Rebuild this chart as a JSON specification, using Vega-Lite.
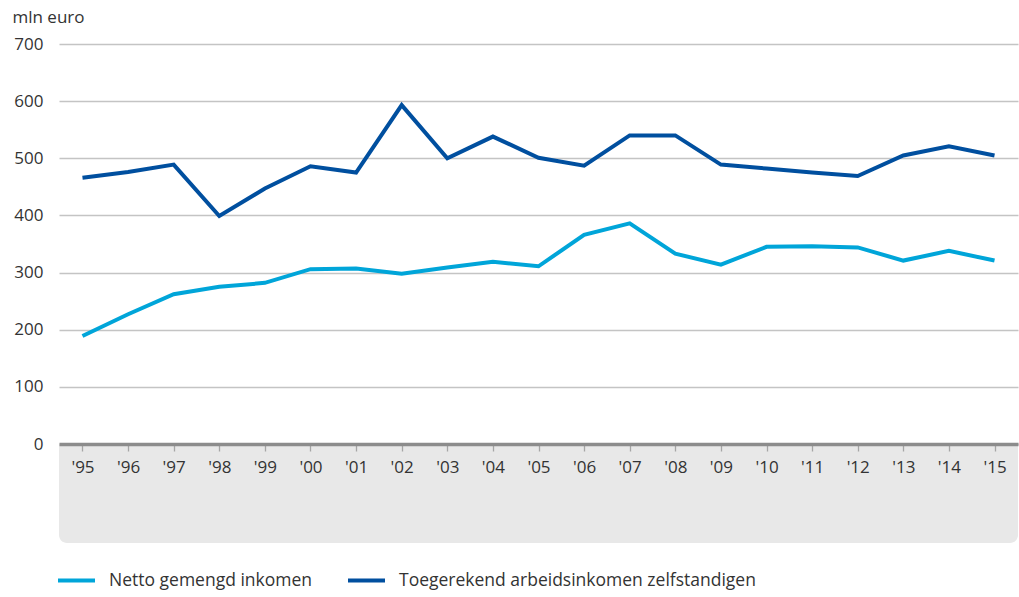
{
  "$schema": "https://vega.github.io/schema/vega-lite/v6.json",
  "width": 959,
  "height": 499,
  "autosize": {"type": "none"},
  "padding": {"left": 59, "top": 44, "right": 1, "bottom": 54},
  "background": "#ffffff",
  "config": {
    "font": "Open Sans",
    "view": {"stroke": null}
  },
  "data": {
    "values": [
      {"year": 1995, "series": "Netto gemengd inkomen", "value": 189},
      {"year": 1996, "series": "Netto gemengd inkomen", "value": 227},
      {"year": 1997, "series": "Netto gemengd inkomen", "value": 262},
      {"year": 1998, "series": "Netto gemengd inkomen", "value": 275},
      {"year": 1999, "series": "Netto gemengd inkomen", "value": 282},
      {"year": 2000, "series": "Netto gemengd inkomen", "value": 306},
      {"year": 2001, "series": "Netto gemengd inkomen", "value": 307},
      {"year": 2002, "series": "Netto gemengd inkomen", "value": 298},
      {"year": 2003, "series": "Netto gemengd inkomen", "value": 309},
      {"year": 2004, "series": "Netto gemengd inkomen", "value": 319},
      {"year": 2005, "series": "Netto gemengd inkomen", "value": 311},
      {"year": 2006, "series": "Netto gemengd inkomen", "value": 366},
      {"year": 2007, "series": "Netto gemengd inkomen", "value": 386},
      {"year": 2008, "series": "Netto gemengd inkomen", "value": 333},
      {"year": 2009, "series": "Netto gemengd inkomen", "value": 314},
      {"year": 2010, "series": "Netto gemengd inkomen", "value": 345},
      {"year": 2011, "series": "Netto gemengd inkomen", "value": 346},
      {"year": 2012, "series": "Netto gemengd inkomen", "value": 344},
      {"year": 2013, "series": "Netto gemengd inkomen", "value": 321},
      {"year": 2014, "series": "Netto gemengd inkomen", "value": 338},
      {"year": 2015, "series": "Netto gemengd inkomen", "value": 321},
      {"year": 1995, "series": "Toegerekend arbeidsinkomen zelfstandigen", "value": 466},
      {"year": 1996, "series": "Toegerekend arbeidsinkomen zelfstandigen", "value": 476},
      {"year": 1997, "series": "Toegerekend arbeidsinkomen zelfstandigen", "value": 489},
      {"year": 1998, "series": "Toegerekend arbeidsinkomen zelfstandigen", "value": 399},
      {"year": 1999, "series": "Toegerekend arbeidsinkomen zelfstandigen", "value": 447},
      {"year": 2000, "series": "Toegerekend arbeidsinkomen zelfstandigen", "value": 486},
      {"year": 2001, "series": "Toegerekend arbeidsinkomen zelfstandigen", "value": 475},
      {"year": 2002, "series": "Toegerekend arbeidsinkomen zelfstandigen", "value": 593},
      {"year": 2003, "series": "Toegerekend arbeidsinkomen zelfstandigen", "value": 500},
      {"year": 2004, "series": "Toegerekend arbeidsinkomen zelfstandigen", "value": 538},
      {"year": 2005, "series": "Toegerekend arbeidsinkomen zelfstandigen", "value": 501},
      {"year": 2006, "series": "Toegerekend arbeidsinkomen zelfstandigen", "value": 487},
      {"year": 2007, "series": "Toegerekend arbeidsinkomen zelfstandigen", "value": 540},
      {"year": 2008, "series": "Toegerekend arbeidsinkomen zelfstandigen", "value": 540},
      {"year": 2009, "series": "Toegerekend arbeidsinkomen zelfstandigen", "value": 489},
      {"year": 2010, "series": "Toegerekend arbeidsinkomen zelfstandigen", "value": 482},
      {"year": 2011, "series": "Toegerekend arbeidsinkomen zelfstandigen", "value": 475},
      {"year": 2012, "series": "Toegerekend arbeidsinkomen zelfstandigen", "value": 469},
      {"year": 2013, "series": "Toegerekend arbeidsinkomen zelfstandigen", "value": 505},
      {"year": 2014, "series": "Toegerekend arbeidsinkomen zelfstandigen", "value": 521},
      {"year": 2015, "series": "Toegerekend arbeidsinkomen zelfstandigen", "value": 505}
    ]
  },
  "layer": [
    {
      "data": {"values": [{"band": "x-as"}]},
      "mark": {
        "type": "rect",
        "color": "#e8e8e8",
        "cornerRadiusBottomLeft": 8,
        "cornerRadiusBottomRight": 8
      },
      "encoding": {
        "y": {
          "datum": 0,
          "type": "quantitative",
          "scale": {"domain": [-173.25, 700], "nice": false, "zero": false}
        },
        "y2": {"datum": -173.25}
      }
    },
    {
      "mark": {"type": "line", "strokeWidth": 4, "strokeJoin": "miter"},
      "encoding": {
        "x": {
          "field": "year",
          "type": "ordinal",
          "scale": {"type": "point", "padding": 0.515},
          "axis": {
            "orient": "bottom",
            "offset": -99,
            "zindex": 1,
            "title": null,
            "labelExpr": "\"'\" + slice(datum.label, 2)",
            "labelAngle": 0,
            "labelFontSize": 17,
            "labelColor": "#333333",
            "labelPadding": 8,
            "domainColor": "#8c8c8c",
            "domainWidth": 3.5,
            "tickColor": "#a6a6a6",
            "tickWidth": 1.3,
            "tickSize": 7,
            "grid": false
          }
        },
        "y": {
          "field": "value",
          "type": "quantitative",
          "scale": {"domain": [-173.25, 700], "nice": false, "zero": false},
          "axis": {
            "values": [0, 100, 200, 300, 400, 500, 600, 700],
            "grid": true,
            "gridColor": "#c4c4c4",
            "gridWidth": 1.5,
            "domain": false,
            "ticks": false,
            "tickSize": 0,
            "labelPadding": 16,
            "labelFontSize": 17,
            "labelColor": "#333333",
            "title": "mln euro",
            "titleAngle": 0,
            "titleAlign": "left",
            "titleBaseline": "alphabetic",
            "titleX": -47,
            "titleY": -22,
            "titleFontSize": 17,
            "titleFontWeight": "normal",
            "titleColor": "#333333"
          }
        },
        "color": {
          "field": "series",
          "type": "nominal",
          "scale": {
            "domain": ["Netto gemengd inkomen", "Toegerekend arbeidsinkomen zelfstandigen"],
            "range": ["#00a5d9", "#004f9f"]
          },
          "legend": {
            "orient": "none",
            "legendX": -3,
            "legendY": 516,
            "direction": "horizontal",
            "title": null,
            "symbolType": "stroke",
            "symbolSize": 1369,
            "symbolStrokeWidth": 4,
            "labelFontSize": 17.5,
            "labelLimit": 0,
            "labelColor": "#333333",
            "labelOffset": 12,
            "columnPadding": 27
          }
        }
      }
    }
  ]
}
